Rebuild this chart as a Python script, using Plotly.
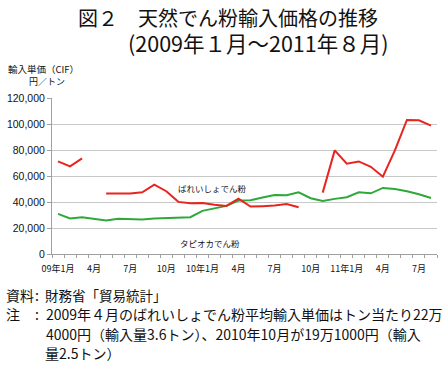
import plotly.graph_objects as go

months = list(range(32))
tick_pos = [0, 3, 6, 9, 12, 15, 18, 21, 24, 27, 30]
tick_text = ["09年1月", "4月", "7月", "10月", "10年1月", "4月", "7月", "10月", "11年1月", "4月", "7月"]

potato = [71200, 67400, 73500, None, 46500, 46500, 46500, 47500, 53400, 48300, 40100, 39100,
          39300, 37800, 37000, 42600, 36500, 36800, 37300, 38500, 36000, None, 47200, 79700,
          69400, 71200, 67100, 59500, 79700, 103100, 102900, 98800]
tapioca = [30900, 27300, 28300, 27100, 25800, 27100, 26600, 26600, 27300, 27800, 28300, 28300,
           33200, 35200, 37000, 41100, 41400, 43400, 45400, 45200, 47500, 42900, 40800, 42400,
           43700, 47500, 46700, 50800, 50000, 48300, 46000, 43100]
y_ticks = [0, 20000, 40000, 60000, 80000, 100000, 120000]

W, H = 446, 370
L, R, T, B = 52, 437, 98, 254
JP = "Noto Sans CJK JP"

def px(x):
    return (x - L) / (R - L)

def py(y):
    return (B - y) / (B - T)

fig = go.Figure()
fig.add_trace(go.Scatter(x=months, y=tapioca, mode="lines", line=dict(color="#2fa83a", width=2),
                         connectgaps=False, hoverinfo="skip"))
fig.add_trace(go.Scatter(x=months, y=potato, mode="lines", line=dict(color="#e8241e", width=2),
                         connectgaps=False, hoverinfo="skip"))

ann = []
def text(x, y, s, size, anchor="left", yanchor="middle"):
    ann.append(dict(x=px(x), y=py(y), xref="paper", yref="paper", text=s, showarrow=False,
                    xanchor=anchor, yanchor=yanchor, align="left",
                    font=dict(family=JP, size=size, color="#111")))

title = ("図２　天然でん粉輸入価格の推移<br>"
         "　　\u2002<span style='font-size:21.5px'>(2009年１月～2011年８月)</span>")
text(76, 1, title, 20, yanchor="top")
text(6, 69, "輸入単価（CIF）", 9.5)
text(27, 82, "円／トン", 9)
text(4, 295, "資料", 14)
text(37, 295, ":", 14, "center")
text(43, 295, "財務省「貿易統計」", 13.5)
text(4, 314, "注", 14)
text(37, 314, ":", 14, "center")
text(44, 314, "2009年４月のばれいしょでん粉平均輸入単価はトン当たり22万", 14)
text(44, 334, "4000円（輸入量3.6トン）、2010年10月が19万1000円（輸入", 14)
text(43, 353, "量2.5トン）", 14)

# series labels in data coordinates
ann.append(dict(x=12.8, y=50600, xref="x", yref="y", text="ばれいしょでん粉", showarrow=False,
                font=dict(family=JP, size=8.5, color="#111")))
ann.append(dict(x=12.6, y=8700, xref="x", yref="y", text="タピオカでん粉", showarrow=False,
                font=dict(family=JP, size=8.5, color="#111")))

fig.update_layout(
    width=W, height=H, margin=dict(l=L, r=W - R, t=T, b=H - B, pad=0, autoexpand=False),
    paper_bgcolor="white", plot_bgcolor="white", showlegend=False,
    annotations=ann,
    xaxis=dict(range=[-0.5, 31.5], tickmode="array", tickvals=tick_pos, ticktext=tick_text,
               ticks="", showgrid=False, zeroline=False, showline=True, linecolor="#a0a0a0",
               linewidth=1, tickfont=dict(family=JP, size=9, color="#111"), fixedrange=True,
               automargin=False, ticklabelstandoff=6,
               minor=dict(tickmode="linear", tick0=-0.5, dtick=1, ticks="outside", ticklen=3,
                          tickcolor="#a0a0a0", showgrid=False)),
    yaxis=dict(range=[0, 120000], tickmode="array", tickvals=y_ticks,
               ticktext=[f"{v:,}" for v in y_ticks], showgrid=True, gridcolor="#c8c8c8",
               gridwidth=1, zeroline=False, showline=True, linecolor="#a0a0a0", linewidth=1,
               ticks="outside", ticklen=4, tickcolor="#a0a0a0", automargin=False,
               tickfont=dict(family="Liberation Sans", size=10.5, color="#111"), fixedrange=True),
)
fig.write_html("out.html", config={"displayModeBar": False},
               post_script="document.body.style.margin='0';")
